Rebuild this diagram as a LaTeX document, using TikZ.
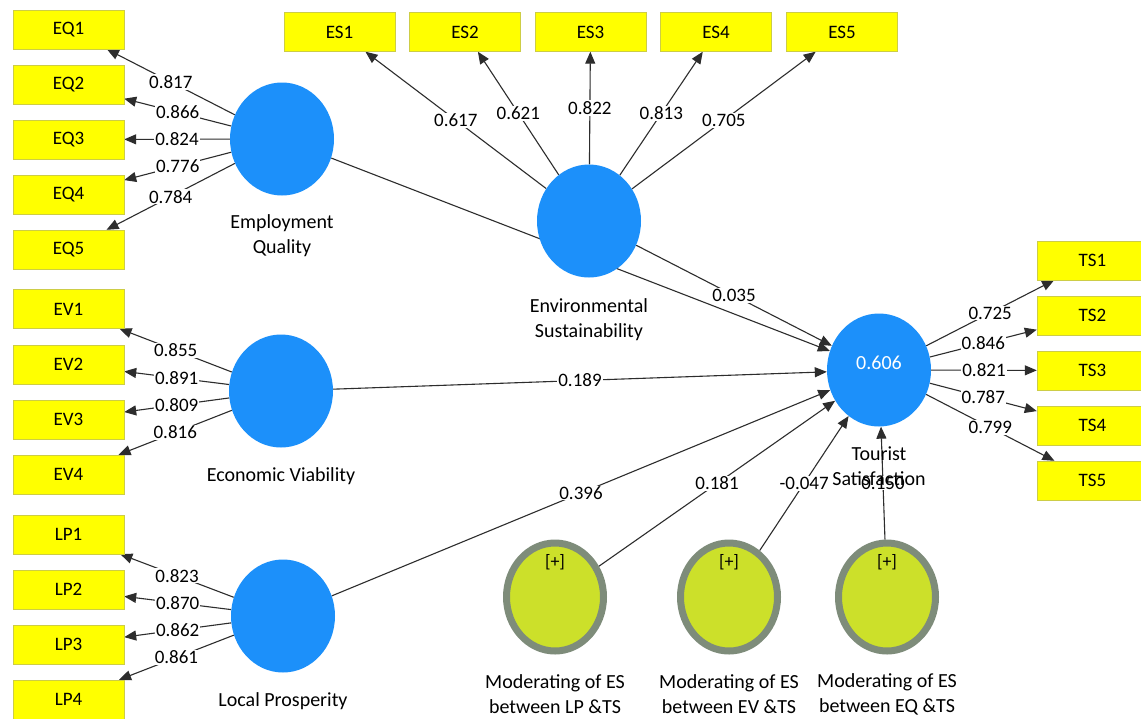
\documentclass[tikz,border=0pt]{standalone}
\usepackage{fontspec}
\setmainfont{Carlito}
\usetikzlibrary{calc,backgrounds,positioning,shapes,arrows.meta}

\definecolor{itemyellow}{RGB}{255,255,0}
\definecolor{itemedge}{RGB}{205,205,70}
\definecolor{lvblue}{RGB}{28,144,250}
\definecolor{modfill}{RGB}{204,224,42}
\definecolor{modring}{RGB}{126,140,122}
\definecolor{pathgray}{RGB}{45,45,45}

\begin{document}
\begin{tikzpicture}[x=1pt,y=-1pt,inner sep=0.4mm,
  item/.style={draw=itemedge,fill=itemyellow,minimum width=111pt,minimum height=39pt,font=\fontsize{19}{20}\selectfont},
  lv/.style={ellipse,fill=lvblue,minimum width=104pt,minimum height=113pt,inner sep=0pt},
  mod/.style={ellipse,draw=modring,line width=7pt,fill=modfill,minimum width=97pt,minimum height=108pt,inner sep=0pt},
  lvname/.style={align=center,font=\fontsize{20}{25}\selectfont},
  load/.style={draw=pathgray,line width=1.1pt,-{Triangle[length=12pt,width=10pt]}},
  coef/.style={fill=white,inner sep=1pt,font=\fontsize{19}{20}\selectfont}]
\useasboundingbox (0,0) rectangle (1141,718);

% latent variables
\node[lv] (eq) at (282,139) {};
\node[lv] (ev) at (281,391) {};
\node[lv] (lp) at (283,616) {};
\node[lv] (es) at (589,221) {};
\node[lv] (ts) at (879,370) {};
\node[text=white,font=\fontsize{20}{20}\selectfont] (tsr) at (879,363) {0.606};
\node[mod] (m1) at (555,597) {};
\node[mod] (m2) at (729,597) {};
\node[mod] (m3) at (887,597) {};
\node[font=\fontsize{18}{20}\selectfont] (m1plus) at (555,562) {[+]};
\node[font=\fontsize{18}{20}\selectfont] (m2plus) at (729,562) {[+]};
\node[font=\fontsize{18}{20}\selectfont] (m3plus) at (887,562) {[+]};

\node[lvname] (eqname) at (282,236) {Employment\\Quality};
\node[lvname] (evname) at (281,476) {Economic Viability};
\node[lvname] (lpname) at (283,701) {Local Prosperity};
\node[lvname] (esname) at (589,320) {Environmental\\Sustainability};
\node[lvname] (m1name) at (555,694) {Moderating of ES\\between LP \&TS};
\node[lvname] (m2name) at (729,694) {Moderating of ES\\between EV \&TS};
\node[lvname] (m3name) at (887,694) {Moderating of ES\\between EQ \&TS};

% indicators
\node[item] (eq1) at (68.5,29.5) {EQ1};
\node[item] (eq2) at (68.5,84.5) {EQ2};
\node[item] (eq3) at (68.5,139.5) {EQ3};
\node[item] (eq4) at (68.5,194.5) {EQ4};
\node[item] (eq5) at (68.5,249.5) {EQ5};
\node[item] (ev1) at (68.5,309) {EV1};
\node[item] (ev2) at (68.5,364.5) {EV2};
\node[item] (ev3) at (68.5,419.5) {EV3};
\node[item] (ev4) at (68.5,474.5) {EV4};
\node[item] (lp1) at (68.5,534.5) {LP1};
\node[item] (lp2) at (68.5,589.5) {LP2};
\node[item] (lp3) at (68.5,644.5) {LP3};
\node[item] (lp4) at (68.5,699.5) {LP4};
\node[item] (es1) at (339.5,32) {ES1};
\node[item] (es2) at (465,32) {ES2};
\node[item] (es3) at (590.5,32) {ES3};
\node[item] (es4) at (716,32) {ES4};
\node[item] (es5) at (842,32) {ES5};
\node[item] (ts1) at (1092.5,260.5) {TS1};
\node[item] (ts2) at (1092.5,315.5) {TS2};
\node[item] (ts3) at (1092.5,370.5) {TS3};
\node[item] (ts4) at (1092.5,425.5) {TS4};
\node[item] (ts5) at (1092.5,480.5) {TS5};

\begin{scope}[on background layer]
\fill[white] (0,0) rectangle (1141,718);
% outer loadings
\draw[load] (eq) -- node[coef] {0.817} (eq1);
\draw[load] (eq) -- node[coef] {0.866} (eq2);
\draw[load] (eq) -- node[coef] {0.824} (eq3);
\draw[load] (eq) -- node[coef] {0.776} (eq4);
\draw[load] (eq) -- node[coef] {0.784} (eq5);
\draw[load] (ev) -- node[coef] {0.855} (ev1);
\draw[load] (ev) -- node[coef] {0.891} (ev2);
\draw[load] (ev) -- node[coef] {0.809} (ev3);
\draw[load] (ev) -- node[coef] {0.816} (ev4);
\draw[load] (lp) -- node[coef] {0.823} (lp1);
\draw[load] (lp) -- node[coef] {0.870} (lp2);
\draw[load] (lp) -- node[coef] {0.862} (lp3);
\draw[load] (lp) -- node[coef] {0.861} (lp4);
\draw[load] (es) -- node[coef] {0.617} (es1);
\draw[load] (es) -- node[coef] {0.621} (es2);
\draw[load] (es) -- node[coef] {0.822} (es3);
\draw[load] (es) -- node[coef] {0.813} (es4);
\draw[load] (es) -- node[coef] {0.705} (es5);
\draw[load] (ts) -- node[coef] {0.725} (ts1);
\draw[load] (ts) -- node[coef] {0.846} (ts2);
\draw[load] (ts) -- node[coef] {0.821} (ts3);
\draw[load] (ts) -- node[coef] {0.787} (ts4);
\draw[load] (ts) -- node[coef] {0.799} (ts5);
% path coefficients
\draw[load] (eq) -- (ts);
\draw[load] (es) -- node[coef] {0.035} (ts);
\draw[load] (ev) -- node[coef] {0.189} (ts);
\draw[load] (lp) -- node[coef] {0.396} (ts);
\draw[load] (m1) -- node[coef] {0.181} (ts);
\draw[load] (m2) -- node[coef] {-0.047} (ts);
\draw[load] (m3) -- node[coef] {0.150} (ts);
\end{scope}

\node[lvname] (tsname) at (879,466) {Tourist\\Satisfaction};
\end{tikzpicture}
\end{document}
